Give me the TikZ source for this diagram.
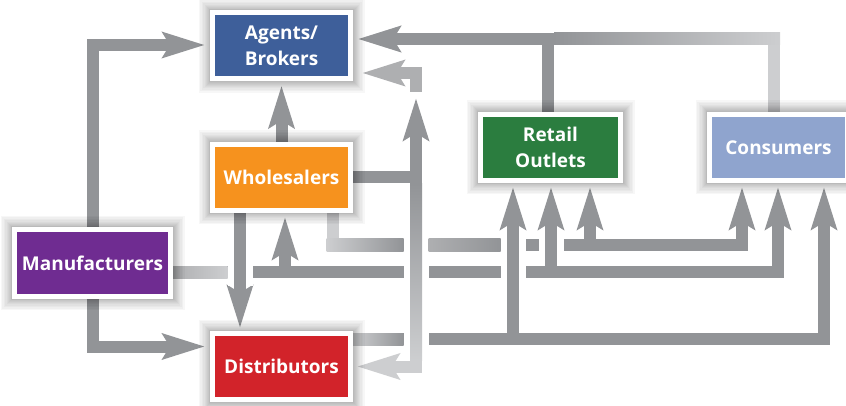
\documentclass[tikz,border=0pt]{standalone}
\usepackage{fontspec}
\setmainfont{Open Sans}[BoldFont={Open Sans Bold}]
\usetikzlibrary{arrows.meta,calc}
\pgfdeclarelayer{bg}
\pgfsetlayers{bg,main}
\definecolor{cAg}{HTML}{3E5F9A}
\definecolor{cWh}{HTML}{F6921E}
\definecolor{cMa}{HTML}{6F2C91}
\definecolor{cDi}{HTML}{D2232A}
\definecolor{cRe}{HTML}{2B7D3F}
\definecolor{cCo}{HTML}{8FA4CE}
\definecolor{ar}{HTML}{929497}
\definecolor{arM}{HTML}{AEAFB1}
\definecolor{arL}{HTML}{CDCED0}
\newcommand\xing[1]{%
  \draw[gapw] ($(#1)+(0,-14)$) -- ($(#1)+(0,14)$);
  \draw[plain] ($(#1)+(0,-15)$) -- ($(#1)+(0,15)$);}
\begin{document}
\begin{tikzpicture}[x=1pt,y=-1pt,
  sh/.style={preaction={draw=black, opacity=0.03, line width=#1}},
  box/.style={draw=white, line width=5pt, minimum width=138pt, minimum height=66pt,
    inner sep=0pt, text=white, font=\bfseries\fontsize{19}{26}\selectfont, align=center,
    sh=28pt, sh=25pt, sh=22pt, sh=19pt, sh=16pt, sh=14pt, sh=12pt, sh=10pt, sh=8pt, sh=7pt},
  conn/.style={draw=ar, line width=12pt, -{Stealth[length=42pt,width=25pt,inset=7pt]}},
  plain/.style={draw=ar, line width=12pt, line cap=butt},
  gapw/.style={draw=white, line width=25pt},
]
\useasboundingbox (0,0) rectangle (846,406);
\clip (0,0) rectangle (846,406);

% boxes
\node[box, fill=cAg] (ag) at (281.5,46) {Agents/\\Brokers};
\node[box, fill=cWh] (wh) at (281.5,177.5) {Wholesalers};
\node[box, fill=cMa, minimum width=156pt] (ma) at (92.5,263) {Manufacturers};
\node[box, fill=cDi] (di) at (281.5,366.5) {Distributors};
\node[box, fill=cRe, minimum width=140pt] (re) at (550.5,147.5) {Retail\\Outlets};
\node[box, fill=cCo] (co) at (778.5,147.5) {Consumers};

% lanes and tips
\coordinate (hW) at (0,245);
\coordinate (hM) at (0,272);
\coordinate (hD) at (0,339);
\coordinate (vJ) at (416,0);
\coordinate (rA) at ([shift={(-37.5,4)}]re.south);
\coordinate (rB) at ([shift={(0.5,4)}]re.south);
\coordinate (rC) at ([shift={(39.5,4)}]re.south);
\coordinate (cA) at ([shift={(-36.5,4)}]co.south);
\coordinate (cB) at ([shift={(-0.5,4)}]co.south);
\coordinate (cC) at ([shift={(45.5,4)}]co.south);
\coordinate (jT) at (416,98);
\coordinate (jE) at (416,92);
\coordinate (jD) at ([xshift=4]di.east);
\coordinate (jB) at (vJ |- jD);
\coordinate (agT) at ([shift={(5,-7)}]ag.east);
\coordinate (agL) at ([shift={(9,27)}]ag.east);
\coordinate (vWD) at ([xshift=-41.5]wh.center);

\begin{pgfonlayer}{bg}
% Manufacturers
\draw[conn] (ma.north) |- ([shift={(-5,-1)}]ag.west);
\draw[conn] (ma.south) |- ([shift={(-5,-20)}]di.west);
\draw[conn] (ma.center |- hM) -| ([shift={(3.5,4)}]wh.south);
\draw[conn] (ma.center |- hM) -| (cB);
\draw[conn] (rB |- hM) -- (rB);
% Wholesalers
\draw[conn] (vWD) -- ([shift={(-41.5,-3)}]di.north);
\draw[conn] (wh.center) -- ([shift={(0,4)}]ag.south);
\draw[conn] ([xshift=51]wh.center) |- (cA |- hW) -- (cA);
\draw[conn] (rC |- hW) -- (rC);
\draw[conn, draw=arL] (wh.center) -| (jB) -- (jD);
\draw[conn] (wh.center) -| (jT);
\draw[conn, draw=arM] (jE) |- (agL);
% Retail outlets and consumers to agents
\draw[conn, draw=arL] ([xshift=-4.5]co.center) |- (agT);
\draw[conn] ([xshift=-2.5]re.center) |- (agT);
% Distributors
\draw[conn] (di.center |- hD) -| (cC);
\draw[conn] (di.center |- hD) -| (rA);
% crossings
\xing{vWD |- hM}
\xing{vJ |- hW}
\xing{vJ |- hM}
\xing{vJ |- hD}
\xing{rA |- hW}
\xing{rA |- hM}
\xing{rB |- hW}
% shading of the grey bands
\shade[left color=ar, right color=arL] ($(re.center |- agT)+(3.5,-6)$) rectangle ($(co.center |- agT)+(1.5,6)$);
\shade[left color=arL, right color=ar] ($(di.east |- hD)+(0,-6)$) rectangle ($(vJ |- hD)+(-12.5,6)$);
\fill[arL] ($(wh.south)+(45,0)$) rectangle ($(wh.center |- hW)+(57,-6)$);
\shade[left color=arL, right color=ar] ($(wh.center |- hW)+(45,-6)$) rectangle ($(vJ |- hW)+(-12.5,6)$);
\shade[left color=arM, right color=ar] ($(vJ |- hW)+(12.5,-6)$) rectangle ($(rA |- hW)+(-12.5,6)$);
\shade[left color=arM, right color=arL] ($(ma.east |- hM)+(0,-6)$) rectangle ($(vWD |- hM)+(-12.5,6)$);
\shade[top color=ar, bottom color=arL] ($(vJ |- wh.center)+(-6,6.5)$) rectangle ($(jB)+(6,-6)$);
\end{pgfonlayer}
\end{tikzpicture}
\end{document}
